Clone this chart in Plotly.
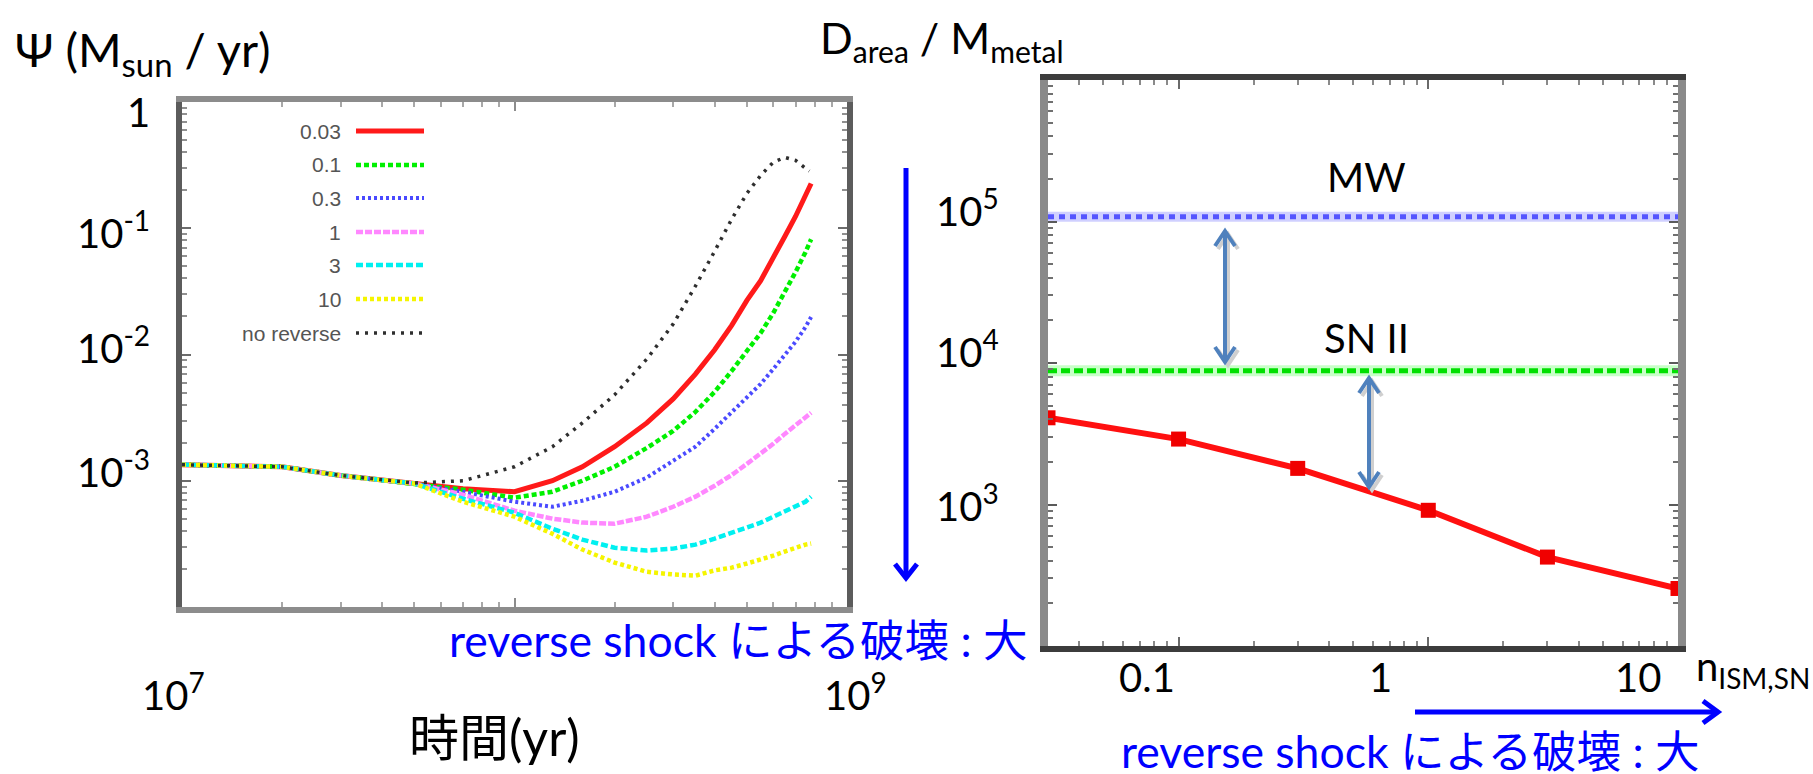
import math
import plotly.graph_objects as go

W, H = 1813, 774

# ---------------- left panel: SFR history for several ISM densities ----------------
time_yr = [1e7, 1.5e7, 2e7, 3e7, 5e7, 7e7, 1e8, 1.3e8, 1.6e8, 2e8, 2.5e8, 3e8,
           3.5e8, 4e8, 4.5e8, 5e8, 5.5e8, 6e8, 6.5e8, 7e8, 7.5e8, 7.8e8]
time_noreverse = [1e7, 1.5e7, 2e7, 3e7, 5e7, 7e7, 1e8, 1.3e8, 1.6e8, 2e8, 2.5e8, 3e8,
                  3.5e8, 4e8, 4.5e8, 5e8, 5.5e8, 6e8, 6.5e8, 7e8, 7.5e8, 7.7e8]

psi_n003 = [1.34e-3, 1.31e-3, 1.29e-3, 1.10e-3, 9.5e-4, 8.65e-4, 8.18e-4, 1.0e-3, 1.29e-3,
            1.86e-3, 2.87e-3, 4.45e-3, 7.0e-3, 1.09e-2, 1.70e-2, 2.68e-2, 3.85e-2,
            5.75e-2, 8.6e-2, 0.124, 0.178, 0.226]
psi_n01 = [1.34e-3, 1.31e-3, 1.29e-3, 1.10e-3, 9.5e-4, 8.5e-4, 7.34e-4, 8.18e-4, 1.0e-3,
           1.29e-3, 1.82e-3, 2.48e-3, 3.51e-3, 5.06e-3, 7.41e-3, 1.07e-2, 1.48e-2,
           2.13e-2, 3.12e-2, 4.49e-2, 6.46e-2, 8.18e-2]
psi_n03 = [1.34e-3, 1.31e-3, 1.29e-3, 1.10e-3, 9.5e-4, 8.18e-4, 6.82e-4, 6.22e-4, 6.95e-4,
           8.18e-4, 1.06e-3, 1.44e-3, 1.86e-3, 2.58e-3, 3.51e-3, 4.61e-3, 5.85e-3,
           7.67e-3, 9.9e-3, 1.26e-2, 1.65e-2, 1.98e-2]
psi_n1 = [1.34e-3, 1.31e-3, 1.29e-3, 1.10e-3, 9.5e-4, 7.76e-4, 5.79e-4, 5.01e-4, 4.66e-4,
          4.57e-4, 5.19e-4, 6.22e-4, 7.48e-4, 9.13e-4, 1.11e-3, 1.36e-3, 1.63e-3,
          1.96e-3, 2.35e-3, 2.72e-3, 3.15e-3, 3.45e-3]
psi_n3 = [1.34e-3, 1.31e-3, 1.29e-3, 1.10e-3, 9.5e-4, 7.2e-4, 5.58e-4, 4.17e-4, 3.42e-4,
          2.95e-4, 2.8e-4, 2.9e-4, 3.12e-4, 3.48e-4, 3.88e-4, 4.33e-4, 4.66e-4,
          5.19e-4, 5.69e-4, 6.22e-4, 6.82e-4, 7.48e-4]
psi_n10 = [1.34e-3, 1.31e-3, 1.29e-3, 1.10e-3, 9.5e-4, 6.82e-4, 5.19e-4, 3.8e-4, 2.85e-4,
           2.25e-4, 1.9e-4, 1.81e-4, 1.77e-4, 1.95e-4, 2.05e-4, 2.21e-4, 2.37e-4,
           2.55e-4, 2.75e-4, 2.95e-4, 3.12e-4, 3.18e-4]
psi_noreverse = [1.34e-3, 1.31e-3, 1.29e-3, 1.10e-3, 9.6e-4, 1.0e-3, 1.29e-3, 1.86e-3,
                 2.87e-3, 4.79e-3, 9.2e-3, 1.74e-2, 3.48e-2, 6.58e-2, 0.118, 0.189,
                 0.262, 0.333, 0.364, 0.345, 0.303, 0.283]

legend_labels = ["0.03", "0.1", "0.3", "1", "3", "10", "no reverse"]

# ---------------- right panel: dust area per metal mass ----------------
n_ism = [0.03, 0.1, 0.3, 1, 3, 10]
d_area_per_metal = [4.1e3, 2.9e3, 1.8e3, 910, 425, 255]
mw_level = 1.08e5
snii_level = 8.8e3

left_yticks = [1, 0.1, 0.01, 0.001]
left_ytext = ["1", "10<sup>-1</sup>", "10<sup>-2</sup>", "10<sup>-3</sup>"]
left_xticks = [1e7, 1e9]
left_xtext = ["10<sup>7</sup>", "10<sup>9</sup>"]
right_yticks = [1e5, 1e4, 1e3]
right_ytext = ["10<sup>5</sup>", "10<sup>4</sup>", "10<sup>3</sup>"]
right_xticks = [0.1, 1, 10]
right_xtext = ["0.1", "1", "10"]

SLIDE_FONT = "Lato, Noto Sans CJK JP, sans-serif"
BLUE = "#0000ff"
STEEL = "#4f81bd"


def px(x):
    return x / W


def py(y):
    return 1 - y / H


# line styles of the left-panel curves (also used for the key samples)
styles = [
    dict(color="#ff1a1a", width=5, dash="solid"),
    dict(color="#00f000", width=4.5, dash="5px,3px"),
    dict(color="#4a4aff", width=4, dash="3px,3px"),
    dict(color="#ff88ff", width=4.5, dash="7px,2px"),
    dict(color="#00f0f0", width=4.5, dash="7px,3px"),
    dict(color="#f5f500", width=4.5, dash="4px,3px"),
    dict(color="#2e2e2e", width=3.5, dash="3px,6px"),
]
series = [psi_n003, psi_n01, psi_n03, psi_n1, psi_n3, psi_n10, psi_noreverse]
times = [time_yr] * 6 + [time_noreverse]

fig = go.Figure()

for t, psi, st, name in zip(times, series, styles, legend_labels):
    fig.add_trace(go.Scatter(
        x=t, y=psi, mode="lines", name=name,
        line=dict(color=st["color"], width=st["width"], dash=st["dash"]),
        xaxis="x", yaxis="y", hoverinfo="skip"))

# right panel reference levels (soft halo + dotted/dashed core)
fig.add_trace(go.Scatter(x=[n_ism[0], n_ism[-1]], y=[mw_level, mw_level], mode="lines",
                         line=dict(color="#d0d0ff", width=10), xaxis="x2", yaxis="y2",
                         hoverinfo="skip", cliponaxis=False))
fig.add_trace(go.Scatter(x=[n_ism[0], n_ism[-1]], y=[mw_level, mw_level], mode="lines",
                         line=dict(color="#5555ff", width=5, dash="6px,5px"), xaxis="x2", yaxis="y2",
                         hoverinfo="skip", cliponaxis=False))
fig.add_trace(go.Scatter(x=[n_ism[0], n_ism[-1]], y=[snii_level, snii_level], mode="lines",
                         line=dict(color="#c8ffc8", width=11), xaxis="x2", yaxis="y2",
                         hoverinfo="skip", cliponaxis=False))
fig.add_trace(go.Scatter(x=[n_ism[0], n_ism[-1]], y=[snii_level, snii_level], mode="lines",
                         line=dict(color="#00e000", width=5, dash="9px,4px"), xaxis="x2", yaxis="y2",
                         hoverinfo="skip", cliponaxis=False))
fig.add_trace(go.Scatter(x=n_ism, y=d_area_per_metal, mode="lines+markers",
                         line=dict(color="#ff1010", width=6),
                         marker=dict(symbol="square", size=15, color="#f00000"),
                         xaxis="x2", yaxis="y2", hoverinfo="skip", cliponaxis=False))

axis_common = dict(type="log", showgrid=False, zeroline=False, showticklabels=False,
                   ticks="inside", mirror="ticks", showline=True, dtick=1,
                   ticklen=9, tickwidth=2)

fig.update_layout(
    width=W, height=H, margin=dict(l=0, r=0, t=0, b=0),
    paper_bgcolor="white", plot_bgcolor="white", showlegend=False,
    xaxis=dict(axis_common, range=[7, 9], domain=[px(182), px(847)], anchor="y",
               linecolor="#8c8c8c", linewidth=6, tickcolor="#8c8c8c",
               minor=dict(ticks="inside", ticklen=5, tickwidth=2, tickcolor="#a8a8a8", dtick="D1", showgrid=False)),
    yaxis=dict(axis_common, range=[-4, 0], domain=[py(607), py(102)], anchor="x",
               linecolor="#5c5c5c", linewidth=6, tickcolor="#6c6c6c",
               minor=dict(ticks="inside", ticklen=5, tickwidth=2, tickcolor="#909090", dtick="D1", showgrid=False)),
    xaxis2=dict(axis_common, range=[math.log10(n_ism[0]), math.log10(n_ism[-1])],
                domain=[px(1048), px(1678)], anchor="y2",
                linecolor="#3c3c3c", linewidth=6, tickcolor="#6a6a6a",
                minor=dict(ticks="inside", ticklen=5, tickwidth=2, tickcolor="#8a8a8a", dtick="D1", showgrid=False)),
    yaxis2=dict(axis_common, range=[2, 6], domain=[py(646), py(80)], anchor="x2",
                linecolor="#8a8a8a", linewidth=8, tickcolor="#5a5a5a",
                minor=dict(ticks="inside", ticklen=5, tickwidth=2, tickcolor="#707070", dtick="D1", showgrid=False)),
)

ann = []
shapes = []

# key of the left panel: labels on the left, line samples on the right
key_rows = [131, 165, 198, 232, 265, 299, 333]
for lab, st, yy in zip(legend_labels, styles, key_rows):
    ann.append(dict(x=px(343), y=py(yy), xref="paper", yref="paper", text=lab,
                    showarrow=False, xanchor="right", yanchor="middle",
                    font=dict(family="Liberation Sans, Arial", size=21, color="#555555")))
    shapes.append(dict(type="line", xref="paper", yref="paper", x0=px(356), x1=px(424),
                       y0=py(yy), y1=py(yy),
                       line=dict(color=st["color"], width=st["width"], dash=st["dash"])))

num_font = dict(family=SLIDE_FONT, size=40, color="black")

# left panel value labels
for v, txt, dy in zip(left_yticks, left_ytext, [-10, -2, 10, 12]):
    ann.append(dict(x=px(152), y=math.log10(v), xref="paper", yref="y", text=txt,
                    showarrow=False, xanchor="right", yanchor="middle", yshift=dy, font=num_font))
for v, txt, dx in zip(left_xticks, left_xtext, [-9, 8]):
    ann.append(dict(x=math.log10(v), y=py(692), xref="x", yref="paper", text=txt,
                    showarrow=False, xanchor="center", yanchor="middle", xshift=dx, font=num_font))

# right panel value labels
for v, txt, dy in zip(right_yticks, right_ytext, [14, 14, 2]):
    ann.append(dict(x=px(1001), y=math.log10(v), xref="paper", yref="y2", text=txt,
                    showarrow=False, xanchor="right", yanchor="middle", yshift=dy, font=num_font))
for v, txt, dx in zip(right_xticks, right_xtext, [-32, -48, -40]):
    ann.append(dict(x=math.log10(v), y=py(677), xref="x2", yref="paper", text=txt,
                    showarrow=False, xanchor="center", yanchor="middle", xshift=dx, font=num_font))

# axis titles and in-panel labels
titles = [
    (13, 52, "Ψ (M<sub>sun</sub> / yr)", "left", 47),
    (818, 40, "D<sub>area</sub> / M<sub>metal</sub>", "left", 43),
    (494, 737, "時間(yr)", "center", 50),
    (1694, 668, "n<sub>ISM,SN</sub>", "left", 40),
    (1366, 177, "MW", "center", 40),
    (1366, 338, "SN II", "center", 40),
]
for x, y, txt, xa, size in titles:
    ann.append(dict(x=px(x), y=py(y), xref="paper", yref="paper", text=txt, showarrow=False,
                    xanchor=xa, yanchor="middle",
                    font=dict(family=SLIDE_FONT, size=size, color="black")))

blue_font = dict(family=SLIDE_FONT, size=44.5, color=BLUE)
ann.append(dict(x=px(447), y=py(639), xref="paper", yref="paper", showarrow=False,
                text="reverse shock による破壊 : 大", xanchor="left", yanchor="middle", font=blue_font))
ann.append(dict(x=px(1119), y=py(750), xref="paper", yref="paper", showarrow=False,
                text="reverse shock による破壊 : 大", xanchor="left", yanchor="middle", font=blue_font))


# slide arrows: a shaft plus an open "V" head at the tip (and optionally the tail)
def head(xt, yt, xf, yf, hw, hl):
    L = math.hypot(xt - xf, yt - yf)
    ux, uy = (xt - xf) / L, (yt - yf) / L
    bx, by = xt - ux * hl, yt - uy * hl
    p1 = (bx - uy * hw, by + ux * hw)
    p2 = (bx + uy * hw, by - ux * hw)
    return "M {:.5f},{:.5f} L {:.5f},{:.5f} L {:.5f},{:.5f}".format(
        px(p1[0]), py(p1[1]), px(xt), py(yt), px(p2[0]), py(p2[1]))


def arrow(x_tail, y_tail, x_tip, y_tip, color, width, hw, hl, both=False):
    out = [dict(type="line", xref="paper", yref="paper", x0=px(x_tail), y0=py(y_tail),
                x1=px(x_tip), y1=py(y_tip), line=dict(color=color, width=width))]
    out.append(dict(type="path", xref="paper", yref="paper", path=head(x_tip, y_tip, x_tail, y_tail, hw, hl),
                    line=dict(color=color, width=width)))
    if both:
        out.append(dict(type="path", xref="paper", yref="paper", path=head(x_tail, y_tail, x_tip, y_tip, hw, hl),
                        line=dict(color=color, width=width)))
    return out


shapes += arrow(906, 168, 906, 578, BLUE, 5, 11, 14)
shapes += arrow(1415, 712, 1718, 712, BLUE, 5, 11, 15)
shapes += arrow(1228, 234, 1228, 365, "#cfcfcf", 4, 10, 15, both=True)
shapes += arrow(1225, 231, 1225, 362, STEEL, 4, 10, 15, both=True)
shapes += arrow(1372, 381, 1372, 490, "#cfcfcf", 4, 10, 15, both=True)
shapes += arrow(1369, 378, 1369, 487, STEEL, 4, 10, 15, both=True)

fig.update_layout(annotations=ann, shapes=shapes)
fig.write_html("out.html")
